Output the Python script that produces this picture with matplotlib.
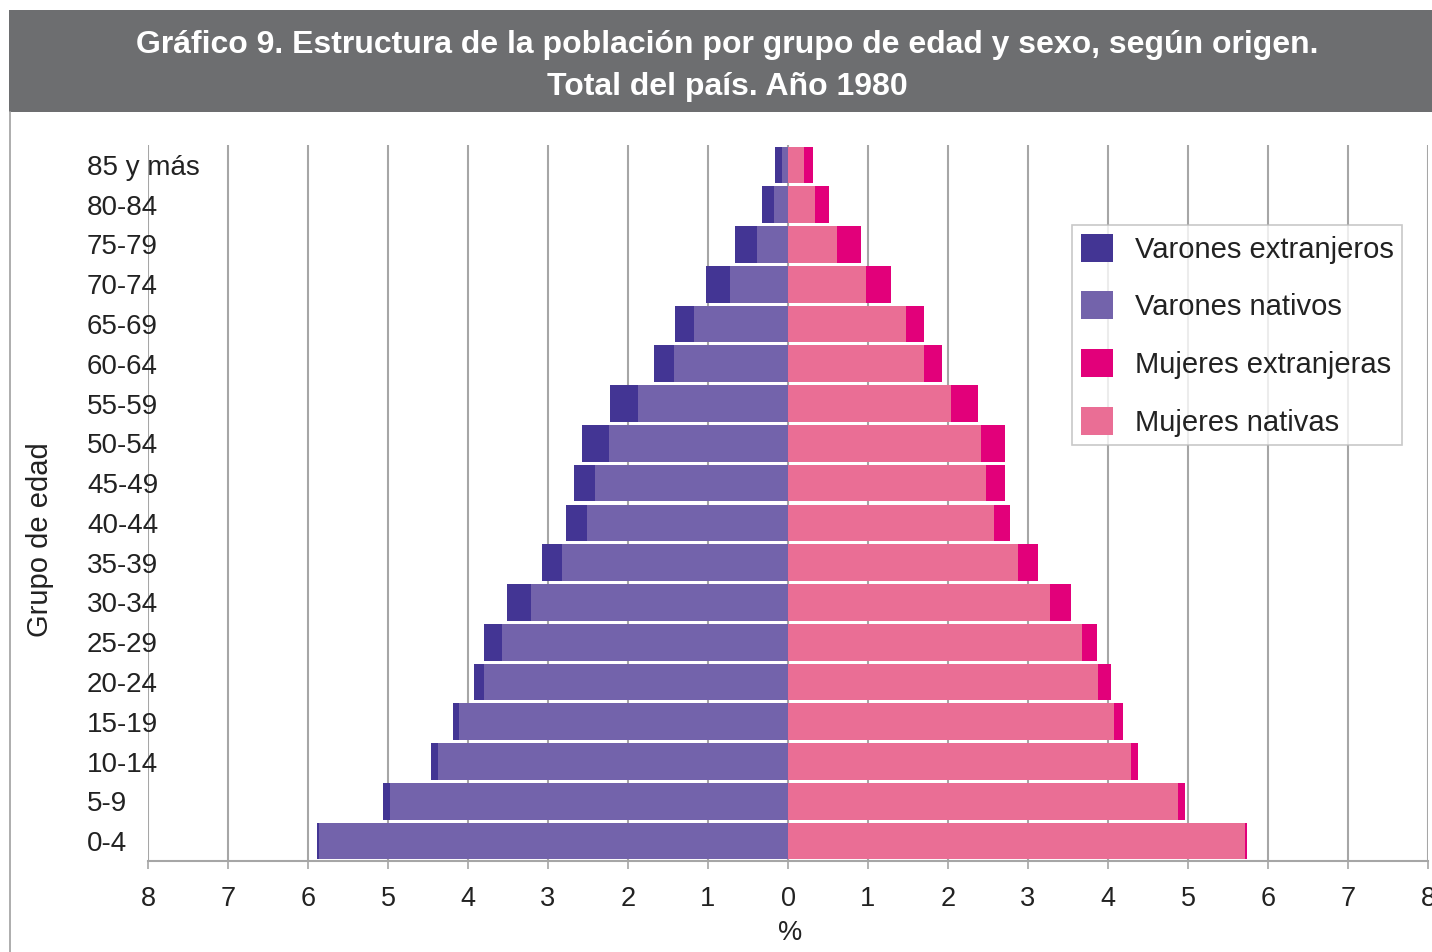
import matplotlib
matplotlib.use("Agg")
import matplotlib.pyplot as plt
from matplotlib.patches import Rectangle, Patch
import numpy as np

plt.rcParams['font.family'] = ['Liberation Sans', 'DejaVu Sans']

grupos = ["0-4", "5-9", "10-14", "15-19", "20-24", "25-29", "30-34", "35-39",
          "40-44", "45-49", "50-54", "55-59", "60-64", "65-69", "70-74",
          "75-79", "80-84", "85 y más"]

varones_nativos = [5.86, 4.97, 4.37, 4.11, 3.80, 3.58, 3.21, 2.82, 2.51, 2.41,
                   2.24, 1.88, 1.43, 1.17, 0.72, 0.39, 0.18, 0.075]
varones_extranjeros = [0.03, 0.09, 0.09, 0.08, 0.13, 0.22, 0.30, 0.26, 0.26, 0.26,
                       0.33, 0.35, 0.24, 0.24, 0.30, 0.27, 0.14, 0.09]
mujeres_nativas = [5.71, 4.87, 4.29, 4.08, 3.88, 3.67, 3.28, 2.88, 2.57, 2.47,
                   2.41, 2.04, 1.70, 1.47, 0.97, 0.61, 0.34, 0.20]
mujeres_extranjeras = [0.03, 0.09, 0.09, 0.11, 0.16, 0.19, 0.26, 0.24, 0.21, 0.24,
                       0.30, 0.33, 0.22, 0.23, 0.32, 0.30, 0.17, 0.11]

xticks = list(range(-8, 9))
xticklabels = [str(abs(v)) for v in xticks]

c_vext = "#433594"
c_vnat = "#7363AB"
c_mext = "#E2007A"
c_mnat = "#EA6E95"
grid_c = "#A6A6A6"

W, H = 1432, 952
fig = plt.figure(figsize=(W / 100, H / 100), dpi=100)
fig.patch.set_facecolor("white")

# title band
fig.patches.append(Rectangle((9 / W, 1 - 112 / H), 1 - 9 / W, (112 - 10) / H,
                             transform=fig.transFigure, facecolor="#6D6E70",
                             edgecolor="none", zorder=0))
# left frame line
fig.add_artist(plt.Line2D([9.5 / W, 9.5 / W], [0, 1 - 112 / H], transform=fig.transFigure,
                          color="#A0A0A0", lw=1.2))
fig.text(727 / W, 1 - 45 / H,
         "Gráfico 9. Estructura de la población por grupo de edad y sexo, según origen.",
         color="white", fontsize=23, fontweight="bold", ha="center", va="center")
fig.text(727 / W, 1 - 87 / H, "Total del país. Año 1980",
         color="white", fontsize=23, fontweight="bold", ha="center", va="center")

ax = fig.add_axes([148 / W, 1 - 861 / H, (1428 - 148) / W, (861 - 145) / H])
y = np.arange(len(grupos))
h = 0.92
vn = np.array(varones_nativos)
ve = np.array(varones_extranjeros)
mn = np.array(mujeres_nativas)
me = np.array(mujeres_extranjeras)

ax.barh(y, -vn, height=h, color=c_vnat, zorder=3)
ax.barh(y, -ve, left=-vn, height=h, color=c_vext, zorder=3)
ax.barh(y, mn, height=h, color=c_mnat, zorder=3)
ax.barh(y, me, left=mn, height=h, color=c_mext, zorder=3)

ax.set_xlim(-8, 8)
ax.set_ylim(-0.5, len(grupos) - 0.5)
ax.set_xticks(xticks)
ax.set_xticklabels(xticklabels, fontsize=19.5, color="#222222")
ax.set_yticks(y)
ax.set_yticklabels(grupos, fontsize=20, color="#222222", ha="left", va="center_baseline")
ax.tick_params(axis="y", length=0, pad=44)
ax.tick_params(axis="x", length=6, width=1.2, color=grid_c, pad=12)
for s in ["left", "right", "top"]:
    ax.spines[s].set_visible(False)
ax.spines["bottom"].set_color(grid_c)
ax.spines["bottom"].set_linewidth(1.5)
ax.grid(axis="x", color=grid_c, lw=1.5, zorder=0)
ax.set_axisbelow(True)

fig.text(790 / W, 1 - 933 / H, "%", fontsize=19.5, color="#222222", ha="center", va="center")
fig.text(40 / W, 1 - 540 / H, "Grupo de edad", fontsize=21, color="#222222",
         ha="center", va="center", rotation=90)

handles = [Patch(facecolor=c_vext), Patch(facecolor=c_vnat),
           Patch(facecolor=c_mext), Patch(facecolor=c_mnat)]
labels = ["Varones extranjeros", "Varones nativos", "Mujeres extranjeras", "Mujeres nativas"]
leg = ax.legend(handles, labels, loc="upper left",
                bbox_to_anchor=((1072 - 148) / (1428 - 148), (861 - 225) / (861 - 145)),
                fontsize=21, frameon=True, fancybox=False, edgecolor="#BBBBBB",
                handlelength=1.1, handleheight=1.1, handletextpad=0.75,
                labelspacing=0.95, borderpad=0.3, borderaxespad=0)
leg.get_frame().set_linewidth(1.2)
for t in leg.get_texts():
    t.set_color("#222222")

fig.savefig("out.png", dpi=100)
